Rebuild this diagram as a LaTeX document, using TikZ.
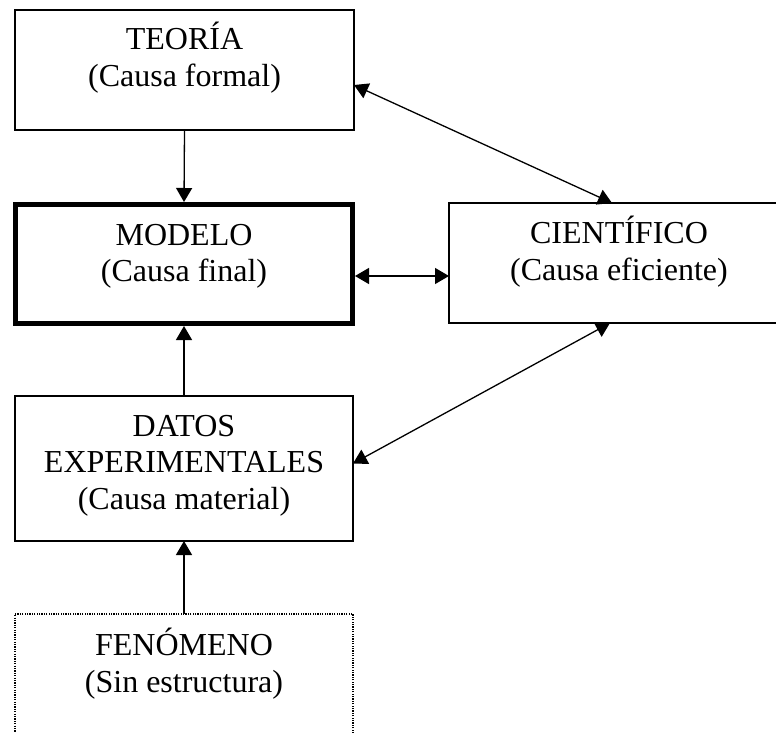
\documentclass[tikz,border=0pt]{standalone}
\usepackage{fontspec}
\setmainfont{Liberation Serif}
\usetikzlibrary{arrows.meta}

\tikzset{
  box/.style={draw, line width=1.3pt, rectangle, inner sep=0pt, outer sep=0pt},
  boldbox/.style={draw, line width=5pt, rectangle, inner sep=0pt, outer sep=2.5pt},
  dotbox/.style={draw, line width=1.2pt, dash pattern=on 1.2pt off 1.2pt, rectangle, inner sep=0pt, outer sep=0pt},
  caption/.style={anchor=north, align=center, inner sep=0pt,
    font=\fontsize{32}{36.5}\selectfont},
  link/.style={line width=1.3pt, -{Triangle[length=14pt,width=16pt]}},
  dlink/.style={line width=1.3pt, {Triangle[length=14pt,width=16pt]}-{Triangle[length=14pt,width=16pt]}}
}

\begin{document}
\begin{tikzpicture}[x=1pt,y=-1pt]
\useasboundingbox (0,0) rectangle (776,733);
\clip (0,0) rectangle (776,733);

% boxes
\node[box, minimum width=339pt, minimum height=120pt] (teoria) at (184.5,70) {};
\node[boldbox, minimum width=337pt, minimum height=119pt] (modelo) at (184,264) {};
\node[box, minimum width=340pt, minimum height=120pt] (cientifico) at (619,263) {};
\node[box, minimum width=338pt, minimum height=145pt] (datos) at (184,468.5) {};
\node[dotbox, minimum width=338pt, minimum height=146pt] (fenomeno) at (184,687) {};

% texts
\node[caption] (tT) at ([yshift=-12pt]teoria.north) {TEORÍA\\(Causa formal)};
\node[caption] (tM) at ([yshift=-22pt]modelo.north) {MODELO\\(Causa final)};
\node[caption] (tC) at ([yshift=-13pt]cientifico.north) {CIENTÍFICO\\(Causa eficiente)};
\node[caption] (tD) at ([yshift=-19pt]datos.north) {DATOS\\EXPERIMENTALES\\(Causa material)};
\node[caption] (tF) at ([yshift=-14pt]fenomeno.north) {FENÓMENO\\(Sin estructura)};

% connectors
\draw[link] (teoria.south) -- (modelo.north);
\draw[link] (datos.north) -- (modelo.south);
\draw[link] (fenomeno.north) -- (datos.south);
\draw[dlink] ([yshift=-15pt]teoria.east) -- ([xshift=-7pt]cientifico.north);
\draw[dlink] ([yshift=-12pt]modelo.east) -- ([yshift=-13pt]cientifico.west);
\draw[dlink] ([xshift=-9pt]cientifico.south) -- ([yshift=5pt]datos.east);
\end{tikzpicture}
\end{document}
